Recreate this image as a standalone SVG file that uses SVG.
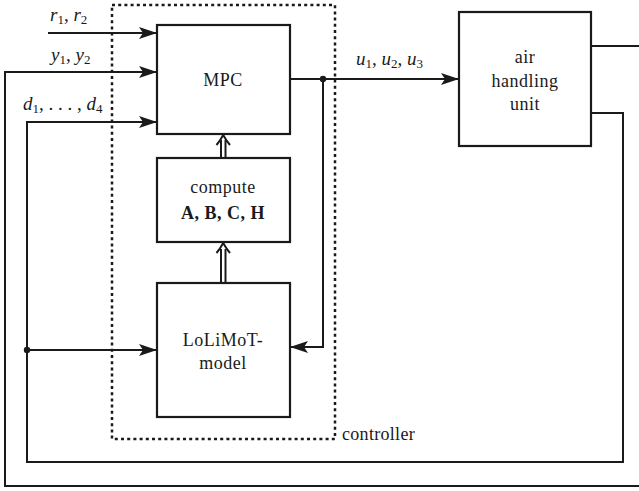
<svg xmlns="http://www.w3.org/2000/svg" width="639" height="491" viewBox="0 0 639 491">
<defs>
<style>
.box{fill:#fff;stroke:#1a1a1a;stroke-width:2.2}
.ln{fill:none;stroke:#1a1a1a;stroke-width:2}
text{font-family:'Liberation Serif','Times New Roman',serif;fill:#1a1a1a}
.t{font-size:18px;letter-spacing:0.5px;text-anchor:middle}
.m{font-size:19px;font-style:italic}
.s{font-size:13px;font-style:normal}
.n{font-style:normal}
.b{font-weight:bold}
</style>
<marker id="ah" viewBox="0 0 18 12" refX="18" refY="6" markerWidth="18" markerHeight="12" markerUnits="userSpaceOnUse" orient="auto">
<path d="M0,0 L18,6 L0,12 L4,6 Z" fill="#1a1a1a"/>
</marker>
</defs>
<rect x="0" y="0" width="639" height="491" fill="#fff"/>
<rect id="controller-frame" x="112" y="5" width="223" height="434" fill="none" stroke="#1a1a1a" stroke-width="2.5" stroke-dasharray="3,3.2"/>
<g id="connectors">
<line class="ln" x1="48" y1="33" x2="157" y2="33" marker-end="url(#ah)"/>
<polyline class="ln" points="639,486 5,486 5,72 157,72" marker-end="url(#ah)"/>
<polyline class="ln" points="591,113 623,113 623,462 27,462 27,122 157,122" marker-end="url(#ah)"/>
<line class="ln" x1="27" y1="350" x2="157" y2="350" marker-end="url(#ah)"/>
<line class="ln" x1="290" y1="79" x2="459" y2="79" marker-end="url(#ah)"/>
<polyline class="ln" points="323,79 323,347 290,347" marker-end="url(#ah)"/>
<line class="ln" x1="591" y1="46" x2="639" y2="46"/>
<circle cx="323" cy="79" r="3.2" fill="#1a1a1a"/>
<circle cx="27" cy="350" r="3.2" fill="#1a1a1a"/>
<g id="dbl1" class="ln" stroke-width="1.6">
<line x1="221" y1="158" x2="221" y2="140"/>
<line x1="225.5" y1="158" x2="225.5" y2="140"/>
<path d="M216.5,145 Q220,141 223.2,135 Q226.5,141 230,145"/>
</g>
<g id="dbl2" class="ln" stroke-width="1.6">
<line x1="221" y1="283" x2="221" y2="249"/>
<line x1="225.5" y1="283" x2="225.5" y2="249"/>
<path d="M216.5,253 Q220,249 223.2,243 Q226.5,249 230,253"/>
</g>
</g>
<g id="labels">
<text class="m" x="50" y="21">r<tspan class="s" dy="3">1</tspan><tspan class="n" dy="-3">, </tspan>r<tspan class="s" dy="3">2</tspan></text>
<text class="m" x="51" y="61">y<tspan class="s" dy="3">1</tspan><tspan class="n" dy="-3">, </tspan>y<tspan class="s" dy="3">2</tspan></text>
<text class="m" x="23" y="110">d<tspan class="s" dy="3">1</tspan><tspan class="n" dy="-3">, . . . , </tspan>d<tspan class="s" dy="3">4</tspan></text>
<text class="m" x="356" y="65">u<tspan class="s" dy="3">1</tspan><tspan class="n" dy="-3">, </tspan>u<tspan class="s" dy="3">2</tspan><tspan class="n" dy="-3">, </tspan>u<tspan class="s" dy="3">3</tspan></text>
<text x="342" y="440" style="font-size:18px;letter-spacing:0.3px;text-anchor:start">controller</text>
</g>
<g id="mpc">
<rect class="box" x="157" y="25" width="133" height="109"/>
<text class="t" x="223" y="86">MPC</text>
</g>
<g id="compute">
<rect class="box" x="157" y="158" width="133" height="84"/>
<text class="t" x="223" y="193">compute</text>
<text class="t b" x="223" y="219">A, B, C, H</text>
</g>
<g id="lolimot">
<rect class="box" x="157" y="283" width="133" height="134"/>
<text class="t" x="223" y="346">LoLiMoT-</text>
<text class="t" x="223" y="369">model</text>
</g>
<g id="ahu">
<rect class="box" x="459" y="12" width="132" height="134"/>
<text class="t" x="525" y="63">air</text>
<text class="t" x="525" y="87">handling</text>
<text class="t" x="525" y="110">unit</text>
</g>
</svg>
